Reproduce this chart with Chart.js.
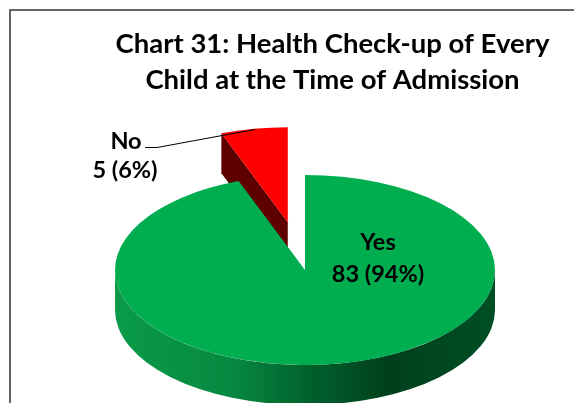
<!DOCTYPE html>
<html lang="en">
<head>
    <meta charset="UTF-8">
    <title>Chart 31</title>
    <script src="https://cdn.jsdelivr.net/npm/chart.js"></script>
    <style>
        body { margin: 0; background: #fff; }
        canvas { display: block; }
    </style>
</head>
<body>
    <canvas id="pie" width="574" height="403"></canvas>
    <script>
        const categories = ['Yes', 'No'];
        const children = [83, 5];
        const titleLines = ['Chart 31: Health Check-up of Every', 'Child at the Time of Admission'];

        const FONT = 'Lato, Carlito, Calibri, sans-serif';
        const GREEN = '#00ae50';
        const RED = '#ff0000';
        const DEPTH = 40;      // thickness of the fake 3D pie
        const SQUASH = 0.5;    // vertical tilt
        const EXPLODE = 97;    // how far the small slice is pulled out
        const CX = 305, CY = 270;

        function pct(i) {
            const total = children.reduce((a, b) => a + b, 0);
            return Math.round(children[i] / total * 100);
        }

        const pie3d = {
            id: 'pie3d',
            beforeDraw(chart) {
                const ctx = chart.ctx;
                ctx.save();
                ctx.strokeStyle = '#333';
                ctx.lineWidth = 1.5;
                ctx.strokeRect(10, 10, 800, 800);
                ctx.restore();
            },
            // chart.js offset also grows the radius, so move the arc by hand
            afterDatasetsUpdate(chart) {
                const no = chart.getDatasetMeta(0).data[1];
                const mid = (no.startAngle + no.endAngle) / 2;
                no.x += Math.cos(mid) * EXPLODE;
                no.y += Math.sin(mid) * EXPLODE;
            },
            beforeDatasetsDraw(chart) {
                const ctx = chart.ctx;
                const [yes, no] = chart.getDatasetMeta(0).data;
                const r = yes.outerRadius;

                // wall of the pulled out slice
                const nx = CX + (no.x - yes.x);
                const ny = CY + (no.y - yes.y) * SQUASH;
                const ex = nx + Math.cos(no.startAngle) * r;
                const ey = ny + Math.sin(no.startAngle) * r * SQUASH;
                ctx.save();
                ctx.fillStyle = '#5e0000';
                ctx.beginPath();
                ctx.moveTo(ex, ey);
                ctx.lineTo(nx, ny);
                ctx.lineTo(nx, ny + DEPTH);
                ctx.lineTo(ex, ey + DEPTH);
                ctx.closePath();
                ctx.fill();

                // front wall of the big slice
                const grad = ctx.createLinearGradient(CX - r, 0, CX + r, 0);
                grad.addColorStop(0, '#0a9a49');
                grad.addColorStop(0.3, '#068a41');
                grad.addColorStop(0.52, '#015f2c');
                grad.addColorStop(0.72, '#00401c');
                grad.addColorStop(1, '#004f24');
                ctx.fillStyle = grad;
                ctx.beginPath();
                ctx.ellipse(CX, CY, r, r * SQUASH, 0, 0, Math.PI);
                ctx.lineTo(CX - r, CY + DEPTH);
                ctx.ellipse(CX, CY + DEPTH, r, r * SQUASH, 0, Math.PI, 0, true);
                ctx.closePath();
                ctx.fill();
                ctx.restore();

                // arcs are drawn by the library on the tilted plane
                ctx.save();
                ctx.transform(1, 0, 0, SQUASH, CX - yes.x, CY - yes.y * SQUASH);
            },
            afterDatasetsDraw(chart) {
                chart.ctx.restore();
            },
            afterDraw(chart) {
                const ctx = chart.ctx;
                ctx.save();
                // leader line for the small slice
                ctx.strokeStyle = '#000';
                ctx.lineWidth = 1;
                ctx.beginPath();
                ctx.moveTo(145, 147.5);
                ctx.lineTo(157, 147.5);
                ctx.lineTo(255, 129.5);
                ctx.stroke();

                ctx.fillStyle = '#000';
                ctx.font = 'bold 23.5px ' + FONT;
                ctx.textAlign = 'center';
                ctx.textBaseline = 'middle';
                ctx.fillText(categories[0], 378, 242);
                ctx.fillText(children[0] + ' (' + pct(0) + '%)', 378, 274);
                ctx.fillText(categories[1], 126, 141);
                ctx.fillText(children[1] + ' (' + pct(1) + '%)', 125, 170);
                ctx.restore();
            }
        };

        new Chart(document.getElementById('pie'), {
            type: 'pie',
            data: {
                labels: categories,
                datasets: [{
                    data: children,
                    backgroundColor: [GREEN, RED],
                    borderWidth: 0,
                    hoverOffset: 0,
                    clip: false
                }]
            },
            options: {
                responsive: false,
                animation: false,
                radius: 190,
                layout: { padding: { left: 91 } },
                plugins: {
                    legend: { display: false },
                    tooltip: { enabled: false },
                    title: {
                        display: true,
                        text: titleLines,
                        color: '#000',
                        font: { family: FONT, size: 27.5, weight: 'bold', lineHeight: 1.31 },
                        padding: { top: 26, bottom: 0 }
                    }
                }
            },
            plugins: [pie3d]
        });
    </script>
</body>
</html>
